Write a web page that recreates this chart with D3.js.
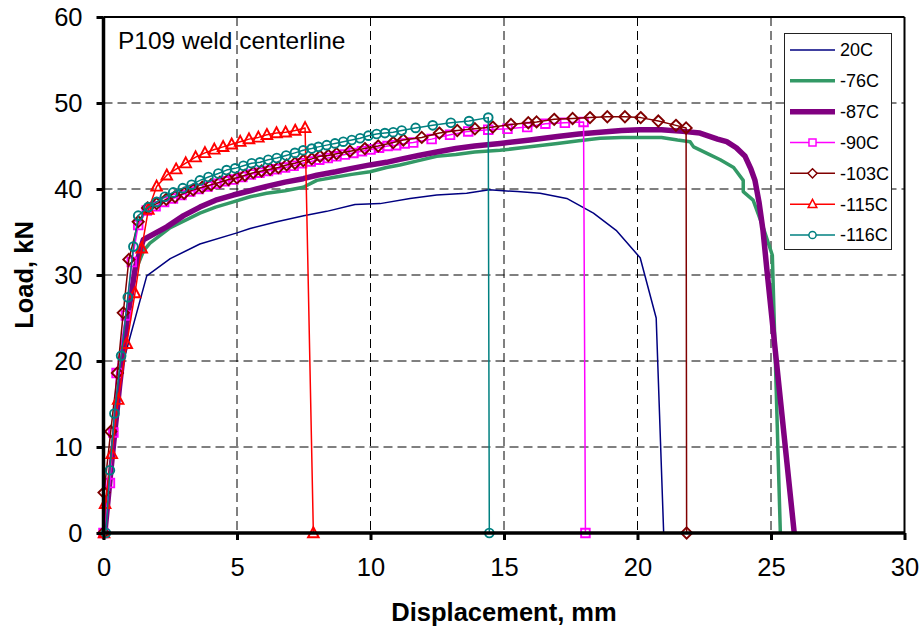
<!DOCTYPE html>
<html>
<head>
<meta charset="utf-8">
<script src="https://cdn.jsdelivr.net/npm/d3@7"></script>
<style>
  html, body { margin: 0; padding: 0; background: #fff; }
  svg { display: block; font-family: "Liberation Sans", Arial, Helvetica, sans-serif; }
</style>
</head>
<body>
<svg id="chart" width="920" height="631"></svg>
<script>
// Load–displacement records, [displacement mm, load kN]
const s20C = [[0.05,0],[0.4,10],[0.75,20],[1.62,29.9],[2.5,31.9],[3.61,33.6],[5.0,34.9],[5.49,35.4],[6.49,36.2],[7.5,36.9],[8.36,37.4],[9.42,38.2],[10.36,38.3],[11.48,38.9],[12.48,39.3],[13.6,39.5],[14.45,39.9],[15.5,39.7],[16.35,39.5],[17.35,38.9],[18.35,37.2],[19.2,35.2],[20.1,32.0],[20.7,25.0],[20.98,0]];

const s76C = [[0.05,0],[0.3,8],[0.6,17],[0.9,25],[1.2,30.5],[1.5,32.8],[1.74,33.7],[2.5,35.5],[3.61,37.2],[4.2,37.9],[4.86,38.5],[5.49,39.1],[6.11,39.5],[6.8,39.8],[7.48,40.2],[7.99,41.0],[8.7,41.4],[9.3,41.7],[9.98,42.0],[10.6,42.5],[11.1,42.8],[11.8,43.3],[12.48,43.8],[13.2,44.0],[13.9,44.3],[14.85,44.5],[15.97,44.9],[17.0,45.3],[17.8,45.6],[18.6,45.9],[19.4,46.0],[20.1,46.0],[20.9,46.0],[21.5,45.7],[21.97,45.5],[22.1,44.9],[22.7,44.0],[23.1,43.4],[23.6,42.5],[23.96,41.0],[23.96,39.7],[24.33,38.7],[24.7,35.6],[25.05,32.3],[25.35,0]];

const s87C = [[0.05,0],[0.3,8],[0.6,17],[0.9,25],[1.2,31],[1.49,34.1],[2.37,35.6],[3.0,36.9],[3.61,37.9],[4.2,38.7],[4.86,39.3],[5.49,39.8],[6.11,40.3],[6.8,40.8],[7.48,41.2],[7.99,41.6],[8.7,42.0],[9.3,42.4],[9.98,42.8],[10.6,43.1],[11.1,43.45],[11.8,43.9],[12.48,44.3],[13.2,44.7],[13.9,45.0],[14.85,45.3],[15.97,45.7],[17.0,46.1],[17.8,46.4],[18.6,46.6],[19.4,46.8],[20.1,46.9],[20.9,46.9],[21.7,46.7],[22.34,46.5],[23.0,45.8],[23.34,45.5],[23.7,44.8],[24.03,43.8],[24.25,42.3],[24.4,41.0],[24.55,38.5],[24.7,35.2],[24.85,30.5],[25.87,0]];

const s90C = [[0.0,0],[0.24,5.8],[0.37,11.7],[0.49,18.6],[0.84,25.3],[1.06,31.5],[1.3,35.8],[1.62,37.5],[1.95,38.0],[2.27,38.5],[2.6,38.9],[2.92,39.3],[3.25,39.7],[3.57,40.0],[3.9,40.3],[4.22,40.6],[4.55,40.9],[4.87,41.1],[5.2,41.4],[5.52,41.7],[5.84,41.9],[6.16,42.1],[6.48,42.3],[6.8,42.5],[7.12,42.7],[7.44,43.0],[7.76,43.2],[8.08,43.4],[8.4,43.6],[8.72,43.8],[9.04,44.0],[9.36,44.2],[9.68,44.4],[10.0,44.6],[10.32,44.8],[10.64,45.0],[10.96,45.1],[11.28,45.3],[11.6,45.4],[12.29,45.8],[12.98,46.3],[13.66,46.7],[14.41,46.9],[15.13,47.0],[15.87,47.2],[16.55,47.6],[17.28,47.7],[17.98,47.8],[18.05,0]];

const s103C = [[0.0,0],[0.02,4.7],[0.27,11.8],[0.52,18.6],[0.74,25.6],[0.95,31.8],[1.3,36.2],[1.65,37.8],[1.99,38.3],[2.35,38.8],[2.68,39.1],[3.02,39.5],[3.36,39.9],[3.7,40.2],[4.03,40.5],[4.36,40.8],[4.68,41.1],[5.0,41.3],[5.3,41.6],[5.61,41.9],[5.92,42.1],[6.24,42.3],[6.55,42.5],[6.86,42.8],[7.17,43.0],[7.48,43.3],[7.8,43.5],[8.11,43.8],[8.42,43.9],[8.73,44.1],[9.23,44.4],[9.79,44.7],[10.29,45.0],[10.85,45.4],[11.23,45.7],[11.92,46.0],[12.58,46.5],[13.25,46.8],[13.91,47.0],[14.58,47.2],[15.26,47.5],[15.91,47.7],[16.22,47.8],[16.88,48.1],[17.57,48.2],[18.22,48.3],[18.87,48.4],[19.53,48.4],[20.12,48.3],[20.78,47.9],[21.44,47.4],[21.82,47.1],[21.84,0]];

const s115C = [[0.02,0],[0.06,3.4],[0.31,9.2],[0.55,15.5],[0.87,22.0],[1.18,27.9],[1.43,33.1],[1.68,37.6],[1.99,40.3],[2.37,41.6],[2.72,42.3],[3.08,43.0],[3.45,43.7],[3.8,44.2],[4.15,44.6],[4.48,44.9],[4.8,45.2],[5.12,45.5],[5.45,45.8],[5.8,46.0],[6.12,46.3],[6.48,46.5],[6.82,46.6],[7.18,46.8],[7.55,47.1],[7.86,0]];

const s116C = [[0.09,0],[0.24,7.3],[0.41,13.9],[0.66,20.6],[0.91,27.4],[1.12,33.3],[1.3,36.9],[1.68,37.9],[1.99,38.5],[2.3,39.1],[2.61,39.6],[2.97,40.1],[3.3,40.5],[3.61,41.0],[3.93,41.4],[4.3,41.8],[4.61,42.2],[4.93,42.4],[5.24,42.7],[5.55,43.0],[5.86,43.1],[6.17,43.4],[6.49,43.6],[6.84,43.9],[7.17,44.2],[7.48,44.5],[7.8,44.7],[8.05,44.9],[8.36,45.1],[8.67,45.3],[8.98,45.5],[9.3,45.7],[9.61,45.9],[9.92,46.2],[10.23,46.4],[10.54,46.5],[10.85,46.6],[11.17,46.8],[11.69,47.1],[12.33,47.4],[13.01,47.7],[13.69,47.9],[14.41,48.3],[14.45,0]];

const seriesNames = ["20C", "-76C", "-87C", "-90C", "-103C", "-115C", "-116C"];
const xTicks = [0, 5, 10, 15, 20, 25, 30];
const yTicks = [0, 10, 20, 30, 40, 50, 60];
const chartTitle = "P109 weld centerline";
const xTitle = "Displacement, mm";
const yTitle = "Load, kN";

// Styling per series (in drawing order)
const styles = [
  { data: s20C,  color: "#000080", width: 1.5, marker: null },
  { data: s76C,  color: "#339966", width: 3.5, marker: null },
  { data: s87C,  color: "#800080", width: 5.5, marker: null },
  { data: s90C,  color: "#FF00FF", width: 1.5, marker: "square" },
  { data: s103C, color: "#800000", width: 1.5, marker: "diamond" },
  { data: s115C, color: "#FF0000", width: 1.5, marker: "triangle" },
  { data: s116C, color: "#008080", width: 1.5, marker: "circle" }
];

const svg = d3.select("#chart");
const plot = { left: 103.5, right: 904.5, top: 17, bottom: 533 };

const x = d3.scaleLinear().domain([0, 30]).range([plot.left, plot.right]);
const y = d3.scaleLinear().domain([0, 60]).range([plot.bottom, plot.top]);

svg.append("rect").attr("width", 920).attr("height", 631).attr("fill", "#fff");

// Dashed grid
const grid = svg.append("g").attr("stroke", "#000").attr("stroke-width", 1).attr("stroke-dasharray", "9,5");
grid.selectAll("line.v").data(xTicks.filter(d => d > 0 && d < 30)).join("line")
  .attr("x1", d => x(d)).attr("x2", d => x(d))
  .attr("y1", plot.top).attr("y2", plot.bottom);
grid.selectAll("line.h").data(yTicks.filter(d => d > 0 && d < 60)).join("line")
  .attr("x1", plot.left).attr("x2", plot.right)
  .attr("y1", d => y(d)).attr("y2", d => y(d));

// Marker path generators
function markerPath(kind) {
  switch (kind) {
    case "square":   return "M-4.3,-4.3H4.3V4.3H-4.3Z";
    case "diamond":  return "M0,-5.6L5.6,0L0,5.6L-5.6,0Z";
    case "triangle": return "M0,-5.8L5.3,4.2L-5.3,4.2Z";
    case "circle":   return d3.symbol(d3.symbolCircle, 60)();
  }
  return null;
}

const line = d3.line().x(d => x(d[0])).y(d => y(d[1]));

const series = svg.append("g");
styles.forEach(s => {
  const g = series.append("g");
  g.append("path")
    .attr("d", line(s.data))
    .attr("fill", "none")
    .attr("stroke", s.color)
    .attr("stroke-width", s.width)
    .attr("stroke-linejoin", "round");
  if (s.marker) {
    g.selectAll("path.mk").data(s.data).join("path")
      .attr("class", "mk")
      .attr("d", markerPath(s.marker))
      .attr("transform", d => `translate(${x(d[0])},${y(d[1])})`)
      .attr("fill", "none")
      .attr("stroke", s.color)
      .attr("stroke-width", 1.9);
  }
});

// Frame
svg.append("line").attr("x1", plot.left).attr("x2", plot.right).attr("y1", plot.top).attr("y2", plot.top)
  .attr("stroke", "#000").attr("stroke-width", 2);
svg.append("line").attr("x1", plot.right).attr("x2", plot.right).attr("y1", plot.top).attr("y2", plot.bottom)
  .attr("stroke", "#000").attr("stroke-width", 2);

// Axes
const xAxis = d3.axisBottom(x).tickValues(xTicks).tickSize(7).tickPadding(18).tickFormat(d3.format("d"));
const yAxis = d3.axisLeft(y).tickValues(yTicks).tickSize(7).tickPadding(14).tickFormat(d3.format("d"));

const gx = svg.append("g").attr("transform", `translate(0,${plot.bottom})`).call(xAxis);
const gy = svg.append("g").attr("transform", `translate(${plot.left},0)`).call(yAxis);

[gx, gy].forEach(g => {
  g.select(".domain").attr("stroke", "#000").attr("stroke-width", 3.5);
  g.selectAll(".tick line").attr("stroke", "#000").attr("stroke-width", 3);
  g.selectAll(".tick text").attr("fill", "#000")
    .style("font-family", "'Liberation Sans', Arial, sans-serif")
    .style("font-size", "25.5px");
});
gx.select(".domain").attr("d", `M${plot.left},0H${plot.right}`);
gy.select(".domain").attr("d", `M0,${plot.bottom}V${plot.top}`);

// Titles
svg.append("text")
  .attr("x", 118).attr("y", 49)
  .attr("font-size", 24.5)
  .attr("fill", "#000")
  .text(chartTitle);

svg.append("text")
  .attr("x", (plot.left + plot.right) / 2).attr("y", 621)
  .attr("text-anchor", "middle")
  .attr("font-size", 25.5).attr("font-weight", "bold")
  .text(xTitle);

svg.append("text")
  .attr("transform", `translate(33,${(plot.top + plot.bottom) / 2}) rotate(-90)`)
  .attr("text-anchor", "middle")
  .attr("font-size", 25.5).attr("font-weight", "bold")
  .text(yTitle);

// Legend
const legend = svg.append("g");
legend.append("rect")
  .attr("x", 784.5).attr("y", 33.5).attr("width", 107).attr("height", 216)
  .attr("fill", "#fff").attr("stroke", "#222").attr("stroke-width", 1);

const rowY = d3.scalePoint().domain(seriesNames).range([50, 235]);
styles.forEach((s, i) => {
  const name = seriesNames[i];
  const yy = rowY(name);
  const row = legend.append("g");
  row.append("line")
    .attr("x1", 790).attr("x2", 835).attr("y1", yy).attr("y2", yy)
    .attr("stroke", s.color).attr("stroke-width", s.width);
  if (s.marker) {
    row.append("path")
      .attr("d", markerPath(s.marker))
      .attr("transform", `translate(812.5,${yy}) scale(0.82)`)
      .attr("fill", "#fff")
      .attr("stroke", s.color).attr("stroke-width", 1.8);
  }
  row.append("text")
    .attr("x", 840).attr("y", yy).attr("dy", "0.36em")
    .attr("font-size", 18).attr("fill", "#000")
    .text(name);
});
</script>
</body>
</html>
